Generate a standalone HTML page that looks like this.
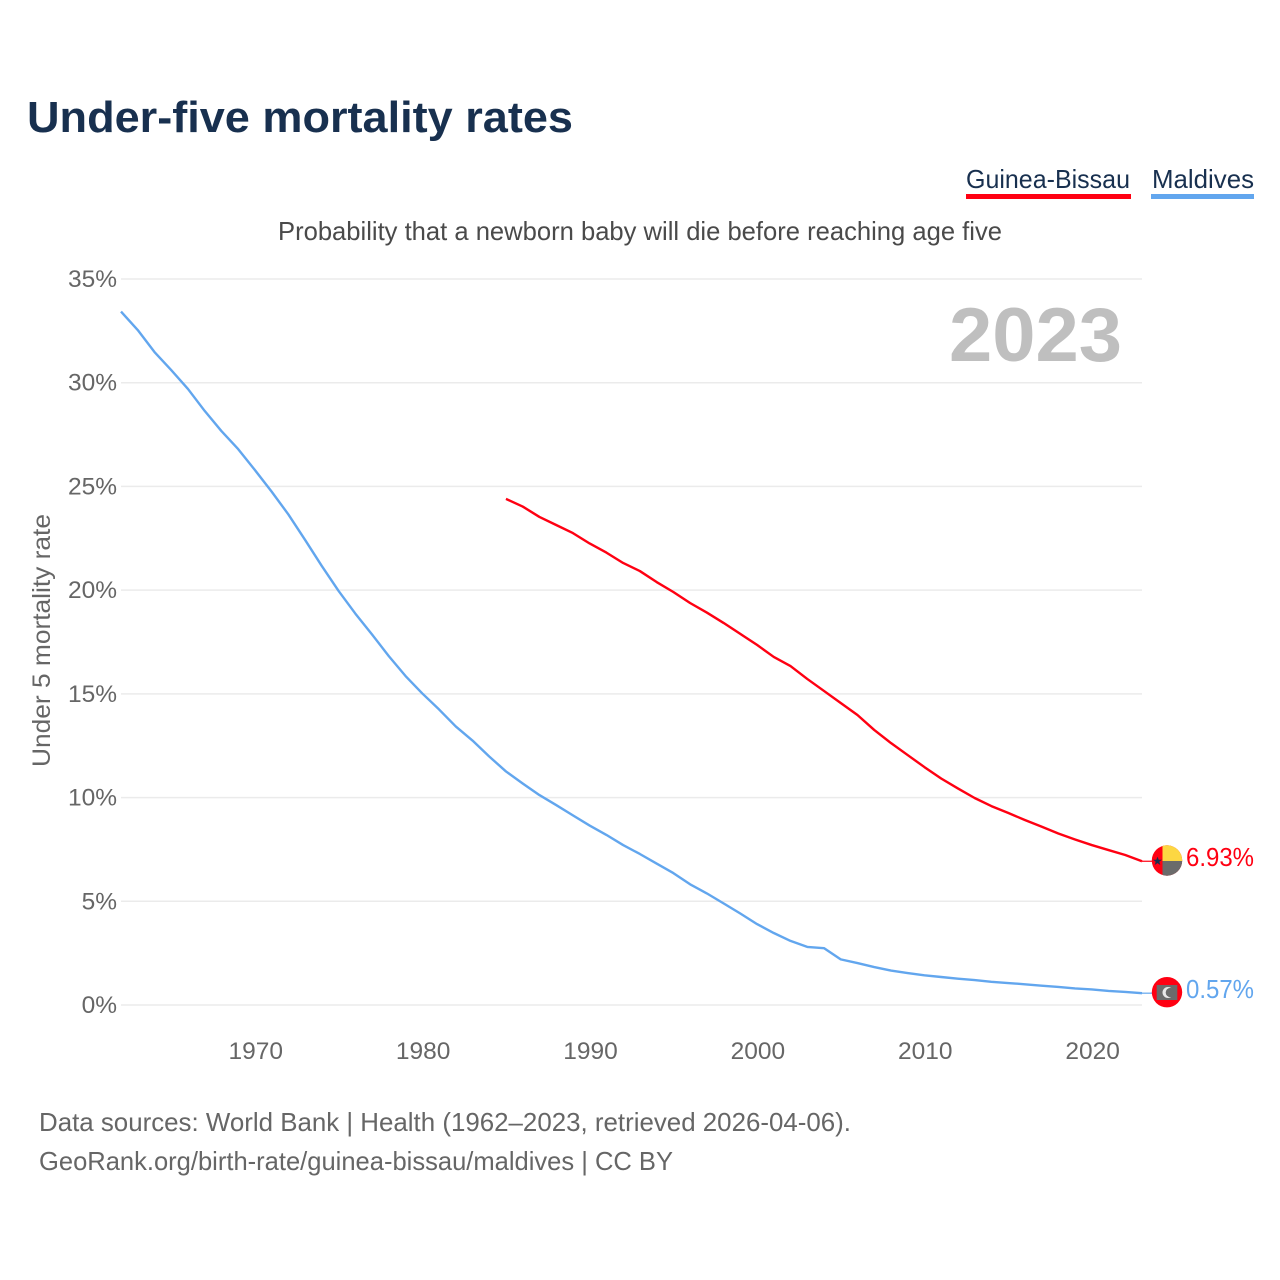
<!DOCTYPE html>
<html lang="en">
<head>
<meta charset="utf-8">
<title>Under-five mortality rates</title>
<style>
html,body{margin:0;padding:0;background:#fff;}
svg{display:block;font-family:"Liberation Sans",sans-serif;}
</style>
</head>
<body>
<svg id="chart" width="1280" height="1280" viewBox="0 0 1280 1280" xmlns="http://www.w3.org/2000/svg">
<defs>
<clipPath id="clip-gb"><circle cx="1167" cy="860.5" r="15.2"/></clipPath>
</defs>
<rect x="0" y="0" width="1280" height="1280" fill="#fff"/>
<text x="27" y="132" font-size="44" font-weight="700" fill="#18304f" textLength="546" lengthAdjust="spacingAndGlyphs">Under-five mortality rates</text>
<g>
<text x="966" y="188" font-size="26" fill="#18304f" textLength="164" lengthAdjust="spacingAndGlyphs">Guinea-Bissau</text>
<rect x="966" y="194" width="165" height="5" fill="#ff0012"/>
</g>
<g>
<text x="1152" y="188" font-size="26" fill="#18304f" textLength="102" lengthAdjust="spacingAndGlyphs">Maldives</text>
<rect x="1151" y="194" width="103" height="5" fill="#62a6ee"/>
</g>
<text x="278" y="240" font-size="26" fill="#4a4a4a" textLength="724" lengthAdjust="spacingAndGlyphs">Probability that a newborn baby will die before reaching age five</text>
<g id="grid"></g>
<g id="y-ticks"></g>
<g id="x-ticks"></g>
<text transform="translate(50,767) rotate(-90)" x="0" y="0" font-size="25" fill="#666" textLength="253" lengthAdjust="spacingAndGlyphs">Under 5 mortality rate</text>
<text x="949" y="361" font-size="76" font-weight="700" fill="#bfbfbf" textLength="173" lengthAdjust="spacingAndGlyphs">2023</text>
<g id="series"></g>
<g>
<g clip-path="url(#clip-gb)">
<rect x="1151" y="845" width="32" height="32" fill="#ff0012"/>
<rect x="1162.5" y="845" width="20.5" height="16" fill="#fcd742"/>
<rect x="1162.5" y="861" width="20.5" height="16" fill="#6b6b6b"/>
</g>
<polygon points="1157.5,856.6 1158.7,859.8 1162,859.8 1159.3,861.8 1160.3,865 1157.5,863.1 1154.7,865 1155.7,861.8 1153,859.8 1156.3,859.8" fill="#18304f"/>
</g>
<g>
<circle cx="1167" cy="992.2" r="15.2" fill="#ff0012"/>
<rect x="1156.7" y="985" width="20.6" height="15" fill="#6b6b6b"/>
<circle cx="1168" cy="992.5" r="5.5" fill="#e8e8e8"/>
<circle cx="1170.3" cy="992.5" r="4.6" fill="#6b6b6b"/>
</g>
<text x="1186" y="866" font-size="26" fill="#ff0012" textLength="68" lengthAdjust="spacingAndGlyphs">6.93%</text>
<text x="1186" y="998" font-size="26" fill="#62a6ee" textLength="68" lengthAdjust="spacingAndGlyphs">0.57%</text>
<text x="39" y="1131" font-size="26" fill="#666" textLength="812" lengthAdjust="spacingAndGlyphs">Data sources: World Bank | Health (1962–2023, retrieved 2026-04-06).</text>
<text x="39" y="1170" font-size="26" fill="#666" textLength="634" lengthAdjust="spacingAndGlyphs">GeoRank.org/birth-rate/guinea-bissau/maldives | CC BY</text>
</svg>
<script>
const yTickValues = [0, 5, 10, 15, 20, 25, 30, 35];
const xTickYears = [1970, 1980, 1990, 2000, 2010, 2020];
const maldivesStartYear = 1962;
const guineaBissauStartYear = 1985;
const maldivesValues = [33.43,32.54,31.48,30.61,29.7,28.64,27.67,26.8,25.79,24.75,23.65,22.42,21.16,19.96,18.87,17.86,16.82,15.86,15.02,14.25,13.43,12.75,11.98,11.26,10.68,10.12,9.64,9.14,8.65,8.2,7.71,7.28,6.82,6.36,5.82,5.38,4.9,4.41,3.9,3.47,3.09,2.8,2.74,2.2,2.02,1.83,1.66,1.54,1.43,1.35,1.27,1.2,1.12,1.06,1.0,0.93,0.87,0.8,0.75,0.68,0.63,0.57];
const guineaBissauValues = [24.4,24.03,23.53,23.14,22.75,22.25,21.81,21.31,20.92,20.39,19.91,19.38,18.92,18.42,17.89,17.36,16.78,16.34,15.72,15.14,14.56,13.98,13.26,12.63,12.05,11.47,10.92,10.44,9.98,9.59,9.26,8.92,8.6,8.27,7.98,7.71,7.47,7.23,6.93];

const NS = 'http://www.w3.org/2000/svg';
const x = year => 121 + (year - 1962) * (1142 - 121) / (2023 - 1962);
const y = value => 1005 - value * (1005 - 279) / 35;

const grid = document.getElementById('grid');
const yTicks = document.getElementById('y-ticks');
const xTicks = document.getElementById('x-ticks');
const seriesGroup = document.getElementById('series');

yTickValues.forEach(v => {
  const line = document.createElementNS(NS, 'line');
  
  
  line.setAttribute('x1', 121);
  line.setAttribute('x2', 1142);
  line.setAttribute('y1', y(v));
  line.setAttribute('y2', y(v));
  line.setAttribute('stroke', '#ebebeb');
  line.setAttribute('stroke-width', 1.5);
  grid.appendChild(line);

  const label = document.createElementNS(NS, 'text');
  
  
  label.setAttribute('x', 117);
  label.setAttribute('y', y(v) + 8);
  label.setAttribute('text-anchor', 'end');
  label.setAttribute('font-size', 24.5);
  label.setAttribute('fill', '#666');
  label.textContent = v + '%';
  yTicks.appendChild(label);
});

xTickYears.forEach(year => {
  const label = document.createElementNS(NS, 'text');
  
  
  label.setAttribute('x', x(year) + 0.8);
  label.setAttribute('y', 1059);
  label.setAttribute('text-anchor', 'middle');
  label.setAttribute('font-size', 24.5);
  label.setAttribute('fill', '#666');
  label.textContent = year;
  xTicks.appendChild(label);
});

function drawSeries(values, startYear, color, name) {
  const pts = values.map((v, i) => x(startYear + i).toFixed(2) + ',' + y(v).toFixed(2));
  const line = document.createElementNS(NS, 'polyline');
  
  
  line.setAttribute('points', pts.join(' '));
  line.setAttribute('fill', 'none');
  line.setAttribute('stroke', color);
  line.setAttribute('stroke-width', 2.4);
  line.setAttribute('stroke-linejoin', 'round');
  seriesGroup.appendChild(line);

  const lastValue = values[values.length - 1];
  const connector = document.createElementNS(NS, 'line');
  
  
  connector.setAttribute('x1', x(startYear + values.length - 1));
  connector.setAttribute('x2', 1152);
  connector.setAttribute('y1', y(lastValue));
  connector.setAttribute('y2', y(lastValue));
  connector.setAttribute('stroke', color);
  connector.setAttribute('stroke-width', 1.2);
  seriesGroup.appendChild(connector);
}

drawSeries(maldivesValues, maldivesStartYear, '#62a6ee', 'line-maldives');
drawSeries(guineaBissauValues, guineaBissauStartYear, '#ff0012', 'line-guinea-bissau');
</script>
</body>
</html>
